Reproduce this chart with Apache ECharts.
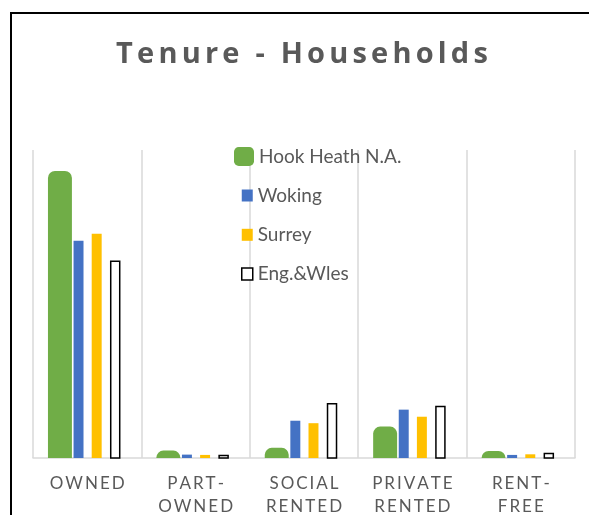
<!DOCTYPE html>
<html>
<head>
<meta charset="utf-8">
<script src="https://cdn.jsdelivr.net/npm/echarts@6/dist/echarts.min.js"></script>
<style>
  html, body { margin: 0; padding: 0; background: #fff; }
  #chart { width: 589px; height: 515px; }
</style>
</head>
<body>
<div id="chart"></div>
<script>
// data (percent of households)
const titleText = 'Tenure - Households';
const categories = ['OWNED', 'PART-\nOWNED', 'SOCIAL\nRENTED', 'PRIVATE\nRENTED', 'RENT-\nFREE'];
const seriesNames = ['Hook Heath N.A.', 'Woking', 'Surrey', 'Eng.&Wles'];
const hookHeath = [93.2, 2.4, 3.3, 10.2, 2.3];
const woking = [70.5, 1.1, 12.1, 15.7, 1.0];
const surrey = [72.8, 1.0, 11.3, 13.4, 1.2];
const engWales = [63.9, 0.8, 17.6, 16.7, 1.5];

const textGrey = '#595959';
const gridGrey = '#D9D9D9';
const font = 'Lato';

// excel-ish letter spacing: every char becomes its own rich token with side padding
function spaced(text, key) {
  return text.split('\n').map(line =>
    line.split('').map(ch => '{' + key + '|' + ch + '}').join('')
  ).join('\n');
}

// bars are placed inside the category band like the excel original
// (start and width are fractions of the band)
function barItem(start, width, radius, style) {
  return function (params, api) {
    const base = api.coord([api.value(0), 0]);
    const top = api.coord([api.value(0), api.value(1)]);
    const band = api.size([1, 0])[0];
    const left = base[0] - band / 2;
    return {
      type: 'rect',
      shape: {
        x: left + band * start,
        y: top[1],
        width: band * width,
        height: base[1] - top[1],
        r: radius
      },
      style: style
    };
  };
}

function toPoints(values) {
  return values.map((v, i) => [i, v]);
}

const greenStyle = { fill: '#70AD47' };
const blueStyle = { fill: '#4472C4' };
const yellowStyle = { fill: '#FFC000' };
const whiteStyle = { fill: '#FFFFFF', stroke: '#000000', lineWidth: 1.5 };

const chart = echarts.init(document.getElementById('chart'));

const option = {
  backgroundColor: '#fff',
  animation: false,
  title: {
    text: spaced(titleText, 't'),
    left: 109,
    top: 35,
    textStyle: {
      rich: {
        t: { fontFamily: 'Open Sans', fontSize: 29, fontWeight: 'bold', color: textGrey, padding: [0, 2.1, 0, 2.1] }
      }
    }
  },
  legend: [
    {
      orient: 'vertical',
      left: 229,
      top: 142,
      itemWidth: 20,
      itemHeight: 19,
      selectedMode: false,
      textStyle: { fontFamily: font, fontSize: 19, color: textGrey },
      data: [{ name: seriesNames[0], icon: 'roundRect', itemStyle: { color: '#70AD47' } }]
    },
    {
      orient: 'vertical',
      left: 236,
      top: 181,
      itemWidth: 11,
      itemHeight: 12,
      itemGap: 20.3,
      selectedMode: false,
      textStyle: { fontFamily: font, fontSize: 19, color: textGrey },
      data: [
        { name: seriesNames[1], icon: 'rect', itemStyle: { color: '#4472C4' } },
        { name: seriesNames[2], icon: 'rect', itemStyle: { color: '#FFC000' } },
        { name: seriesNames[3], icon: 'rect', itemStyle: { color: '#FFFFFF', borderColor: '#000', borderWidth: 1.5 } }
      ]
    }
  ],
  grid: { left: 33, right: 14, top: 150, bottom: 57 },
  xAxis: {
    type: 'category',
    data: categories,
    axisTick: { show: false },
    axisLine: { lineStyle: { color: gridGrey, width: 1.5 } },
    splitLine: { show: true, lineStyle: { color: gridGrey, width: 1.5 } },
    axisLabel: {
      interval: 0,
      margin: 14,
      formatter: (v) => spaced(v, 'l'),
      rich: {
        l: { fontFamily: font, fontSize: 17, color: textGrey, lineHeight: 23, padding: [0, 1, 0, 1] }
      }
    }
  },
  yAxis: { type: 'value', min: 0, max: 100, show: false },
  graphic: [
    {
      type: 'rect',
      silent: true,
      z: -10,
      shape: { x: 11, y: 13, width: 620, height: 600 },
      style: { fill: 'none', stroke: '#000', lineWidth: 2 }
    }
  ],
  series: [
    { name: seriesNames[0], type: 'custom', itemStyle: { color: '#70AD47' }, renderItem: barItem(0.138, 0.221, [7, 7, 0, 0], greenStyle), data: toPoints(hookHeath), encode: { x: 0, y: 1 } },
    { name: seriesNames[1], type: 'custom', itemStyle: { color: '#4472C4' }, renderItem: barItem(0.374, 0.092, 0, blueStyle), data: toPoints(woking), encode: { x: 0, y: 1 } },
    { name: seriesNames[2], type: 'custom', itemStyle: { color: '#FFC000' }, renderItem: barItem(0.5415, 0.092, 0, yellowStyle), data: toPoints(surrey), encode: { x: 0, y: 1 } },
    { name: seriesNames[3], type: 'custom', itemStyle: { color: '#FFFFFF', borderColor: '#000', borderWidth: 1.5 }, renderItem: barItem(0.717, 0.083, 0, whiteStyle), data: toPoints(engWales), encode: { x: 0, y: 1 } }
  ]
};

chart.setOption(option);
</script>
</body>
</html>
